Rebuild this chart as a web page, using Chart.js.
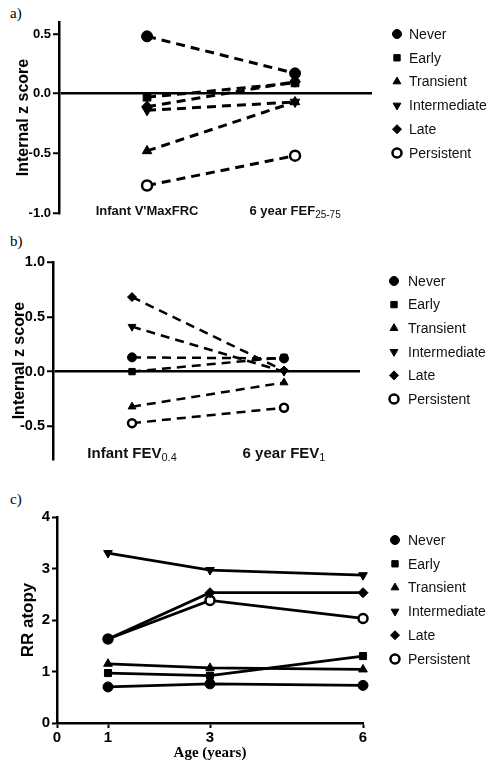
<!DOCTYPE html>
<html>
<head>
<meta charset="utf-8">
<script src="https://cdn.jsdelivr.net/npm/chart.js@4.4.1/dist/chart.umd.min.js"></script>
<style>
    body { margin: 0; background: #fff; width: 492px; height: 766px; position: relative; overflow: hidden; }
    .panel { position: absolute; left: 0; }
    .tag { position: absolute; left: 10px; font: 15px "Liberation Serif", "Times New Roman", serif; color: #000; }
</style>
</head>
<body>
<div class="tag" style="top:5px">a)</div>
<div class="tag" style="top:233px">b)</div>
<div class="tag" style="top:491px">c)</div>
<canvas id="chartA" class="panel" style="top:0" width="492" height="230"></canvas>
<canvas id="chartB" class="panel" style="top:230px" width="492" height="240"></canvas>
<canvas id="chartC" class="panel" style="top:465px" width="492" height="301"></canvas>
<script>
// Gruppen (gleich in allen drei Panels)
const groups = ['Never', 'Early', 'Transient', 'Intermediate', 'Late', 'Persistent'];
const markers = ['circle', 'rect', 'triangle', 'triangle', 'rectRot', 'circle'];
const markerTurn = [0, 0, 0, 180, 0, 0];

// a) Infant V'MaxFRC -> 6 year FEF25-75
const labelsA = ["Infant V'MaxFRC", '6 year FEF'];
const subsA = ['', '25-75'];
const neverA = [0.48, 0.17];
const earlyA = [-0.03, 0.09];
const transientA = [-0.48, -0.07];
const intermediateA = [-0.14, -0.07];
const lateA = [-0.11, 0.10];
const persistentA = [-0.77, -0.52];

// b) Infant FEV0.4 -> 6 year FEV1
const labelsB = ['Infant FEV', '6 year FEV'];
const subsB = ['0.4', '1'];
const neverB = [0.13, 0.12];
const earlyB = [0.00, 0.13];
const transientB = [-0.32, -0.10];
const intermediateB = [0.41, 0.00];
const lateB = [0.68, 0.01];
const persistentB = [-0.47, -0.33];

// c) RR atopy nach Alter
const ages = [1, 3, 6];
const ageTicks = [0, 1, 3, 6];
const neverC = [0.70, 0.76, 0.73];
const earlyC = [0.97, 0.92, 1.30];
const transientC = [1.15, 1.07, 1.04];
const intermediateC = [3.30, 2.97, 2.87];
const lateC = [1.63, 2.53, 2.53];
const persistentC = [1.63, 2.38, 2.03];

const FONT = '"Liberation Sans", Arial, sans-serif';
Chart.defaults.font.family = FONT;
Chart.defaults.color = '#000';

function drawMarker(ctx, style, rot, r, x, y, open)
{
    ctx.save();
    ctx.fillStyle = open ? '#fff' : '#000';
    ctx.strokeStyle = '#000';
    ctx.lineWidth = open ? 2.5 : 1;
    if (Chart.helpers && Chart.helpers.drawPoint)
    {
        Chart.helpers.drawPoint(ctx, { pointStyle: style, rotation: rot, radius: r, borderWidth: ctx.lineWidth }, x, y);
    } else
    {
        ctx.beginPath();
        ctx.arc(x, y, r, 0, Math.PI * 2);
        ctx.fill();
        ctx.stroke();
    }
    ctx.restore();
}

// Legende rechts neben dem Plot
const sideLegend = {
    id: 'sideLegend',
    afterDraw(chart, args, opts)
    {
        const ctx = chart.ctx;
        chart.data.datasets.forEach((ds, i) =>
        {
            const y = opts.top + i * opts.step;
            drawMarker(ctx, ds.pointStyle, ds.pointRotation, 4.5, opts.markerX, y, i === 5);
            ctx.save();
            ctx.font = '14px ' + FONT;
            ctx.fillStyle = '#111';
            ctx.textBaseline = 'middle';
            ctx.fillText(ds.label, opts.textX, y + 1);
            ctx.restore();
        });
    }
};

// Kategorie-Beschriftung mit Index (a und b)
const catLabels = {
    id: 'catLabels',
    afterDraw(chart, args, opts)
    {
        const ctx = chart.ctx;
        const xs = chart.scales.x;
        opts.main.forEach((txt, i) =>
        {
            ctx.save();
            ctx.fillStyle = '#111';
            ctx.textBaseline = 'alphabetic';
            ctx.font = 'bold ' + opts.size + 'px ' + FONT;
            const w1 = ctx.measureText(txt).width;
            ctx.font = opts.subSize + 'px ' + FONT;
            const w2 = ctx.measureText(opts.sub[i]).width;
            const x0 = xs.getPixelForValue(i) - (w1 + w2) / 2;
            ctx.font = 'bold ' + opts.size + 'px ' + FONT;
            ctx.fillText(txt, x0, opts.y);
            ctx.font = opts.subSize + 'px ' + FONT;
            ctx.fillText(opts.sub[i], x0 + w1, opts.y + 3);
            ctx.restore();
        });
    }
};

function makeSets(series, xs, dashed, radius, width, onTop)
{
    return series.map((vals, i) => ({
        label: groups[i],
        data: vals.map((v, j) => ({ x: xs[j], y: v })),
        order: i === onTop ? -1 : 0,
        borderColor: '#000',
        borderWidth: width,
        borderDash: dashed ? [9, 6] : [],
        pointStyle: markers[i],
        pointRotation: markerTurn[i],
        pointRadius: i === 5 ? radius - 0.5 : radius,
        pointBackgroundColor: i === 5 ? '#fff' : '#000',
        pointBorderColor: '#000',
        pointBorderWidth: i === 5 ? 2.5 : 1,
        clip: false,
        tension: 0
    }));
}

function zScoreChart(id, series, opt)
{
    return new Chart(document.getElementById(id), {
        type: 'line',
        data: { datasets: makeSets(series, [0, 1], true, opt.radius, opt.lineWidth, opt.onTop) },
        plugins: [sideLegend, catLabels],
        options: {
            responsive: false,
            animation: false,
            layout: { padding: opt.padding },
            plugins: {
                legend: { display: false },
                tooltip: { enabled: false },
                sideLegend: opt.legend,
                catLabels: opt.cats
            },
            scales: {
                x: { type: 'linear', display: false, min: opt.xMin, max: opt.xMax },
                y: {
                    min: opt.yMin,
                    max: opt.yMax,
                    afterFit: s => { s.width = opt.axisX; },
                    border: { display: true, color: '#000', width: 2.5 },
                    grid: {
                        color: c => (c.tick && c.tick.value === 0) ? '#000' : 'rgba(0,0,0,0)',
                        lineWidth: 2.5,
                        tickColor: '#000',
                        tickWidth: 2,
                        tickLength: 6
                    },
                    ticks: {
                        stepSize: 0.5,
                        includeBounds: false,
                        padding: 2,
                        font: { size: opt.tickSize, weight: 'bold' },
                        callback: v => v.toFixed(1)
                    },
                    title: {
                        display: true,
                        text: 'Internal z score',
                        font: { size: opt.titleSize, weight: 'bold' },
                        padding: { top: opt.titlePad, bottom: 0 }
                    }
                }
            }
        }
    });
}

zScoreChart('chartA', [neverA, earlyA, transientA, intermediateA, lateA, persistentA], {
    radius: 5.5, lineWidth: 3, onTop: -1,
    padding: { left: 0, top: 22, right: 120, bottom: 17 },
    xMin: -0.595, xMax: 1.52, yMin: -1, yMax: 0.6, axisX: 59,
    tickSize: 13, titleSize: 16, titlePad: 14,
    legend: { top: 34, step: 23.8, markerX: 397, textX: 409 },
    cats: { main: labelsA, sub: subsA, y: 215, size: 13, subSize: 10 }
});

zScoreChart('chartB', [neverB, earlyB, transientB, intermediateB, lateB, persistentB], {
    radius: 4.5, lineWidth: 2.5, onTop: 1,
    padding: { left: 0, top: 32, right: 132, bottom: 6.4 },
    xMin: -0.52, xMax: 1.5, yMin: -0.8, yMax: 1.0, axisX: 53,
    tickSize: 14.5, titleSize: 16, titlePad: 10,
    legend: { top: 51, step: 23.6, markerX: 394, textX: 408 },
    cats: { main: labelsB, sub: subsB, y: 228, size: 15, subSize: 11 }
});

new Chart(document.getElementById('chartC'), {
    type: 'line',
    data: { datasets: makeSets([neverC, earlyC, transientC, intermediateC, lateC, persistentC], ages, false, 5, 2.8, -1) },
    plugins: [sideLegend],
    options: {
        responsive: false,
        animation: false,
        layout: { padding: { left: 0, top: 52, right: 129, bottom: 0 } },
        plugins: {
            legend: { display: false },
            tooltip: { enabled: false },
            sideLegend: { top: 75, step: 23.8, markerX: 395, textX: 408 }
        },
        scales: {
            x: {
                type: 'linear',
                min: 0,
                max: 6,
                afterFit: s => { s.height = 43; },
                afterBuildTicks: s => { s.ticks = ageTicks.map(v => ({ value: v })); },
                border: { display: true, color: '#000', width: 2.5 },
                grid: { drawOnChartArea: false, tickColor: '#000', tickWidth: 2, tickLength: 5 },
                ticks: { padding: 1, font: { size: 15, weight: 'bold' }, maxRotation: 0 },
                title: {
                    display: true,
                    text: 'Age (years)',
                    font: { family: '"Liberation Serif", "Times New Roman", serif', size: 15, weight: 'bold' },
                    padding: { top: 0, bottom: 4 }
                }
            },
            y: {
                min: 0,
                max: 4,
                afterFit: s => { s.width = 57; },
                border: { display: true, color: '#000', width: 2.5 },
                grid: { drawOnChartArea: false, tickColor: '#000', tickWidth: 2, tickLength: 5 },
                ticks: { stepSize: 1, padding: 2, font: { size: 15, weight: 'bold' } },
                title: {
                    display: true,
                    text: 'RR atopy',
                    font: { size: 17, weight: 'bold' },
                    padding: { top: 18, bottom: 0 }
                }
            }
        }
    }
});
</script>
</body>
</html>
